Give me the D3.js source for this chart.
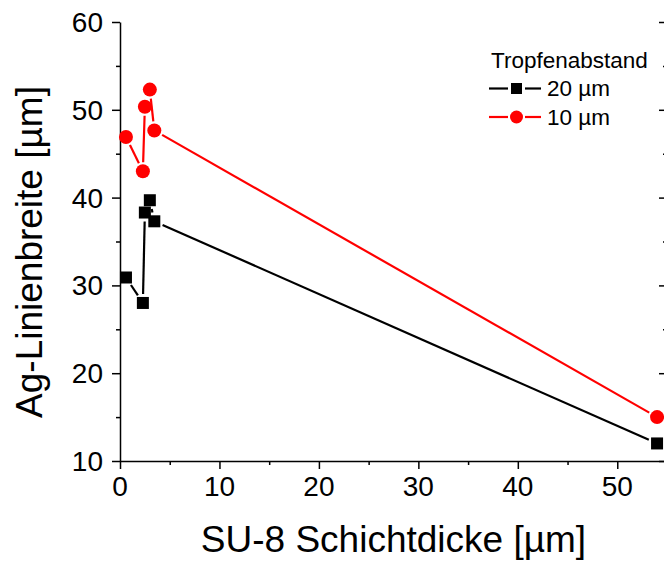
<!DOCTYPE html>
<html>
<head>
<meta charset="utf-8">
<script src="https://cdn.jsdelivr.net/npm/d3@7"></script>
<style>
  html, body { margin: 0; padding: 0; background: #fff; }
  svg { display: block; font-family: "Liberation Sans", Arial, sans-serif; }
</style>
</head>
<body>
<svg id="chart" width="664" height="562"></svg>
<script>
// SU-8 layer thickness [µm]
const thickness = [0.6, 2.3, 2.5, 3.0, 3.45, 54];
// Ag line width [µm] for drop spacing 20 µm and 10 µm
const width20 = [30.9, 28.0, 38.3, 39.7, 37.3, 12.0];
const width10 = [46.9, 43.0, 50.35, 52.3, 47.65, 15.0];

const xTicks = [0, 10, 20, 30, 40, 50];
const yTicks = [10, 20, 30, 40, 50, 60];

const series = [
  { name: "20 µm", values: width20, color: "#000000", symbol: "square" },
  { name: "10 µm", values: width10, color: "#ff0000", symbol: "circle" }
];

const svg = d3.select("#chart");
const margin = { left: 120, top: 22, right: 667, bottom: 461 };

const x = d3.scaleLinear().domain([0, 55]).range([margin.left, margin.right]);
const y = d3.scaleLinear().domain([10, 60]).range([margin.bottom, margin.top]);

const tickFont = 28;

// bottom axis
const xAxis = svg.append("g")
  .attr("transform", `translate(0,${margin.bottom})`)
  .call(d3.axisBottom(x).tickValues(d3.range(0, 56, 5)).tickSize(8).tickSizeOuter(0).tickFormat(""));
xAxis.selectAll(".tick line").attr("y2", d => d % 10 === 0 ? 8 : 4);
xAxis.select(".domain").attr("stroke-width", 1.5);
xAxis.selectAll(".tick line").attr("stroke-width", 1.5);
svg.append("g").selectAll("text").data(xTicks).join("text")
  .attr("x", d => x(d)).attr("y", 496)
  .attr("text-anchor", "middle").attr("font-size", tickFont).text(d => d);

// left axis
const yAxis = svg.append("g")
  .attr("transform", `translate(${margin.left},0)`)
  .call(d3.axisLeft(y).tickValues(d3.range(10, 61, 5)).tickSize(8).tickSizeOuter(0).tickFormat(""));
yAxis.selectAll(".tick line").attr("x2", d => d % 10 === 0 ? -8 : -4);
yAxis.select(".domain").attr("stroke-width", 1.5);
yAxis.selectAll(".tick line").attr("stroke-width", 1.5);
svg.append("g").selectAll("text").data(yTicks).join("text")
  .attr("x", 103).attr("y", d => y(d)).attr("dy", "0.36em")
  .attr("text-anchor", "end").attr("font-size", tickFont).text(d => d);

// right axis: inward ticks
const rAxis = svg.append("g")
  .attr("transform", `translate(${margin.right},0)`)
  .call(d3.axisLeft(y).tickValues(d3.range(10, 61, 5)).tickSize(-8).tickSizeOuter(0).tickFormat(""));
rAxis.selectAll(".tick line").attr("x2", d => d % 10 === 0 ? -8 : -4).attr("stroke-width", 1.5);
rAxis.select(".domain").attr("stroke-width", 1.5);

// axis titles
svg.append("text")
  .attr("x", (margin.left + margin.right) / 2).attr("y", 552)
  .attr("text-anchor", "middle").attr("font-size", 37)
  .text("SU-8 Schichtdicke [µm]");
svg.append("text")
  .attr("transform", "translate(42,252) rotate(-90)")
  .attr("text-anchor", "middle").attr("font-size", 37)
  .text("Ag-Linienbreite [µm]");

// line segments leave a small gap around each symbol
const gap = 9;
function drawSymbol(g, s, cx, cy, size) {
  if (s.symbol === "square") {
    g.append("rect").attr("x", cx - size / 2).attr("y", cy - size / 2)
      .attr("width", size).attr("height", size).attr("fill", s.color);
  } else {
    g.append("circle").attr("cx", cx).attr("cy", cy).attr("r", size / 2 + 1).attr("fill", s.color);
  }
}

series.forEach(s => {
  const g = svg.append("g");
  const pts = thickness.map((t, i) => [x(t), y(s.values[i])]);
  for (let i = 0; i < pts.length - 1; i++) {
    const [x1, y1] = pts[i], [x2, y2] = pts[i + 1];
    const len = Math.hypot(x2 - x1, y2 - y1);
    if (len <= 2 * gap) continue;
    const ux = (x2 - x1) / len, uy = (y2 - y1) / len;
    g.append("line")
      .attr("x1", x1 + ux * gap).attr("y1", y1 + uy * gap)
      .attr("x2", x2 - ux * gap).attr("y2", y2 - uy * gap)
      .attr("stroke", s.color).attr("stroke-width", 2.2);
  }
  pts.forEach(([cx, cy]) => drawSymbol(g, s, cx, cy, 12));
});

// legend
const legend = svg.append("g");
legend.append("text").attr("x", 491).attr("y", 68).attr("font-size", 22.5).text("Tropfenabstand");
series.forEach((s, i) => {
  const cy = 88.5 + i * 28.5;
  legend.append("line").attr("x1", 489).attr("x2", 508).attr("y1", cy).attr("y2", cy)
    .attr("stroke", s.color).attr("stroke-width", 2.2);
  legend.append("line").attr("x1", 525).attr("x2", 541).attr("y1", cy).attr("y2", cy)
    .attr("stroke", s.color).attr("stroke-width", 2.2);
  drawSymbol(legend, s, 516.5, cy, 11);
  legend.append("text").attr("x", 547).attr("y", cy + 7.5).attr("font-size", 22.5).text(s.name);
});
</script>
</body>
</html>
